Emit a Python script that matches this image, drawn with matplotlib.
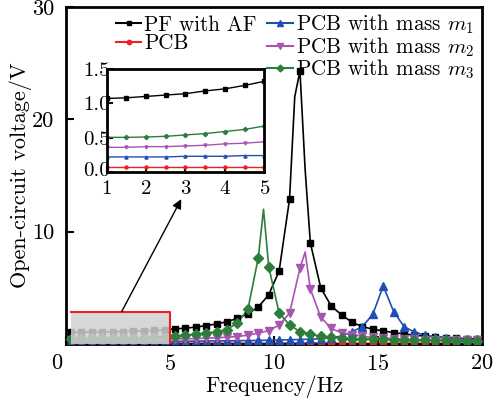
import matplotlib
matplotlib.use("Agg")
import matplotlib.pyplot as plt
import matplotlib.transforms as mtransforms
from matplotlib.lines import Line2D

plt.rcParams['font.family'] = 'serif'
plt.rcParams['font.serif'] = ['cmr10']
plt.rcParams['mathtext.fontset'] = 'cm'
plt.rcParams['axes.formatter.use_mathtext'] = True

# frequencies of the plotted markers (Hz)
freq = [0.25 + 0.5 * i for i in range(40)]

pf_af = [1.06, 1.07, 1.08, 1.09, 1.10, 1.12, 1.15, 1.18, 1.22, 1.28,
         1.36, 1.42, 1.52, 1.65, 1.80, 2.00, 2.30, 2.70, 3.30, 4.40,
         6.50, 12.9, 24.3, 9.00, 5.00, 3.40, 2.60, 1.95, 1.56, 1.33,
         1.18, 1.03, 0.91, 0.80, 0.71, 0.65, 0.59, 0.53, 0.50, 0.47]
pcb = [0.08] * 20 + [0.09, 0.10, 0.10, 0.10, 0.10, 0.09] + [0.08] * 14
pcb_m1 = [0.22, 0.22, 0.22, 0.22, 0.22, 0.22, 0.23, 0.23, 0.23, 0.24,
          0.25, 0.26, 0.27, 0.28, 0.29, 0.30, 0.31, 0.32, 0.33, 0.35,
          0.37, 0.39, 0.41, 0.44, 0.48, 0.56, 0.72, 1.10, 1.56, 2.66,
          5.18, 2.90, 1.56, 1.07, 0.80, 0.65, 0.55, 0.50, 0.45, 0.42]
pcb_m2 = [0.36, 0.36, 0.36, 0.37, 0.37, 0.38, 0.39, 0.40, 0.42, 0.44,
          0.46, 0.48, 0.50, 0.53, 0.56, 0.62, 0.68, 0.80, 0.98, 1.20,
          1.70, 2.75, 6.75, 4.90, 2.40, 1.40, 1.00, 0.85, 0.70, 0.60,
          0.55, 0.50, 0.46, 0.42, 0.40, 0.38, 0.36, 0.35, 0.34, 0.33]
pcb_m3 = [0.50, 0.50, 0.51, 0.51, 0.52, 0.53, 0.55, 0.57, 0.60, 0.64,
          0.70, 0.80, 0.86, 0.98, 1.10, 1.30, 1.90, 3.10, 7.70, 6.90,
          2.75, 1.71, 1.12, 0.89, 0.70, 0.60, 0.55, 0.50, 0.47, 0.44,
          0.42, 0.40, 0.38, 0.36, 0.35, 0.34, 0.33, 0.32, 0.31, 0.30]

# unmarked points on the curves between markers (peaks)
extra = {
    'pf_af': ([11.0, 11.5], [22.0, 15.5]),
    'pcb_m2': ([11.5], [8.2]),
    'pcb_m3': ([9.5], [12.0]),
}

# inset data 1-5 Hz
freq_in = [1, 1.5, 2, 2.5, 3, 3.5, 4, 4.5, 5]
pf_af_in = [1.07, 1.08, 1.10, 1.12, 1.14, 1.18, 1.21, 1.26, 1.32]
pcb_in = [0.08] * 9
pcb_m1_in = [0.22, 0.22, 0.22, 0.22, 0.23, 0.23, 0.23, 0.24, 0.24]
pcb_m2_in = [0.36, 0.36, 0.37, 0.37, 0.38, 0.39, 0.41, 0.42, 0.44]
pcb_m3_in = [0.505, 0.505, 0.51, 0.52, 0.54, 0.56, 0.59, 0.62, 0.67]

series = [
    ('pf_af', pf_af, pf_af_in, 'PF with AF', '#000000', 's', 5),
    ('pcb', pcb, pcb_in, 'PCB', '#ee2020', 'o', 4.5),
    ('pcb_m1', pcb_m1, pcb_m1_in, 'PCB with mass $m_1$', '#1f4fb0', '^', 6),
    ('pcb_m2', pcb_m2, pcb_m2_in, 'PCB with mass $m_2$', '#a655b0', 'v', 6),
    ('pcb_m3', pcb_m3, pcb_m3_in, 'PCB with mass $m_3$', '#2e7d3a', 'D', 5),
]

fig = plt.figure(figsize=(4.94, 4.03), dpi=100)
ax = fig.add_axes([0.133, 0.146, 0.843, 0.837])

handles = {}
for key, y, yin, label, color, mk, ms in series:
    xs, ys = list(freq), list(y)
    if key in extra:
        pts = sorted(zip(xs + extra[key][0], ys + extra[key][1]))
        xs = [p[0] for p in pts]
        ys = [p[1] for p in pts]
    ax.plot(xs, ys, color=color, lw=1.2, zorder=2)
    ax.plot(freq, y, linestyle='none', marker=mk, color=color, ms=ms, zorder=3)
    handles[key] = Line2D([], [], color=color, lw=1.5, marker=mk, ms=ms * 0.7)

# shaded zoom region
ax.fill_between([0.25, 5], 0, 2.9, color='#d0d0d0', alpha=0.85, lw=0, zorder=4)
ax.plot([0.25, 5, 5], [2.9, 2.9, 0], color='#ee2020', lw=1.5, zorder=5)
ax.annotate('', xy=(5.55, 12.9), xytext=(2.69, 2.9),
            arrowprops=dict(arrowstyle='-|>', color='black', lw=1,
                            mutation_scale=14, shrinkA=0, shrinkB=0), zorder=6)

ax.set_xlim(0, 20)
ax.set_ylim(0, 30)
ax.set_xticks([0, 5, 10, 15, 20])
ax.set_yticks([0, 10, 20, 30])
ax.set_yticklabels(['', '10', '20', '30'])
ax.tick_params(direction='in', length=6, width=1.5, labelsize=16, pad=7)
ax.tick_params(axis='y', pad=8)
for s in ax.spines.values():
    s.set_linewidth(2)
# first x label sits a little left
lbl0 = ax.get_xticklabels()[0]
lbl0.set_transform(lbl0.get_transform() +
                   mtransforms.ScaledTranslation(-9 / 100, 0, fig.dpi_scale_trans))
ax.set_xlabel('Frequency/Hz', fontsize=16, labelpad=1)
ax.set_ylabel('Open-circuit voltage/V', fontsize=16, labelpad=0)

blank = Line2D([], [], linestyle='none')
leg_h = [handles['pf_af'], handles['pcb'], blank,
         handles['pcb_m1'], handles['pcb_m2'], handles['pcb_m3']]
leg_l = ['PF with AF', 'PCB', '', 'PCB with mass $m_1$',
         'PCB with mass $m_2$', 'PCB with mass $m_3$']
ax.legend(leg_h, leg_l, ncol=2, loc='upper right', bbox_to_anchor=(1.012, 1.02),
          frameon=False, fontsize=15.2, handlelength=1.2, handletextpad=0.15,
          columnspacing=0.5, labelspacing=-0.05, borderaxespad=0.2)

# inset
axi = fig.add_axes([0.216, 0.573, 0.319, 0.256])
for key, y, yin, label, color, mk, ms in series:
    axi.plot(freq_in, yin, color=color, lw=1.0, marker=mk, ms=2.2)
axi.set_xlim(1, 5)
axi.set_ylim(0, 1.5)
axi.set_xticks([1, 2, 3, 4, 5])
axi.set_yticks([0, 0.5, 1.0, 1.5])
axi.set_yticklabels(['0.0', '0.5', '1.0', '1.5'])
axi.tick_params(direction='in', length=4, width=1.5, labelsize=15, pad=6)
axi.tick_params(axis='y', pad=-2)
for s in axi.spines.values():
    s.set_linewidth(2)
# lift the "0.0" label a touch so it clears the "1" below it
y0 = axi.get_yticklabels()[0]
y0.set_transform(y0.get_transform() +
                 mtransforms.ScaledTranslation(0, 3 / 100, fig.dpi_scale_trans))

fig.savefig('out.png', dpi=100)
